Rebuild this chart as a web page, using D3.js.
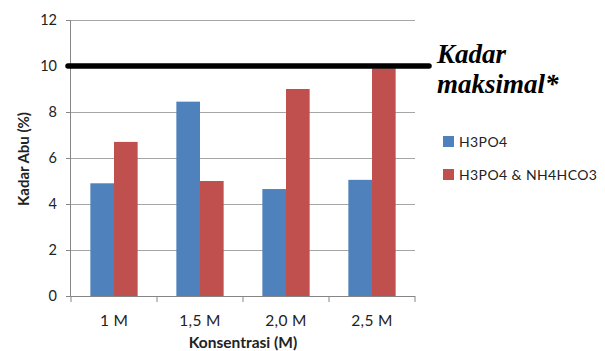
<!DOCTYPE html>
<html><head><meta charset="utf-8">
<script src="https://cdn.jsdelivr.net/npm/d3@7"></script>
<style>body{margin:0;background:#fff}svg{display:block}</style>
</head><body>
<script>
const categories = ["1 M", "1,5 M", "2,0 M", "2,5 M"];
const seriesNames = ["H3PO4", "H3PO4 & NH4HCO3"];
const h3po4 = [4.9, 8.45, 4.65, 5.05];
const h3po4Nh4hco3 = [6.7, 5.0, 9.0, 9.9];
const yTicks = [0, 2, 4, 6, 8, 10, 12];
const maxLimit = 10;
const colors = ["#4F81BD", "#C0504D"];

const W = 605, H = 351;
const svg = d3.select("body").append("svg").attr("width", W).attr("height", H);
const font = "Lato, 'Open Sans', sans-serif";

const x0 = 71, x1 = 415, yTop = 20, yBot = 296;
const x = d3.scaleBand().domain(categories).range([x0, x1]).paddingInner(0.45).paddingOuter(0.225);
const xs = d3.scaleBand().domain(seriesNames).range([0, x.bandwidth()]);
const y = d3.scaleLinear().domain([0, 12]).range([yBot, yTop]);

// gridlines
svg.append("g").selectAll("line").data(yTicks.filter(d => d > 0)).join("line")
  .attr("x1", x0).attr("x2", x1).attr("y1", d => y(d)).attr("y2", d => y(d))
  .attr("stroke", "#a6a6a6").attr("stroke-width", 1).attr("shape-rendering", "crispEdges");

// bars
const data = [h3po4, h3po4Nh4hco3];
seriesNames.forEach((s, si) => {
  svg.append("g").selectAll("rect").data(categories).join("rect")
    .attr("x", c => x(c) + xs(s)).attr("width", xs.bandwidth())
    .attr("y", (c, i) => y(data[si][i])).attr("height", (c, i) => yBot - y(data[si][i]))
    .attr("fill", colors[si]);
});

// y axis
const yAxis = d3.axisLeft(y).tickValues(yTicks).tickSize(5).tickPadding(9);
const gy = svg.append("g").attr("transform", `translate(${x0},0)`).call(yAxis);
gy.select(".domain").attr("stroke", "#868686").attr("d", `M-0.5,${yTop}V${yBot}`);
gy.selectAll(".tick line").attr("stroke", "#868686");
gy.selectAll("text").attr("font-family", font).attr("font-size", 14.5).attr("fill", "#222");

// x axis with boundary ticks
const gx = svg.append("g").attr("transform", `translate(0,${yBot})`);
gx.append("line").attr("x1", x0).attr("x2", x1).attr("y1", 0.5).attr("y2", 0.5).attr("stroke", "#868686");
const bounds = d3.range(categories.length + 1).map(i => x0 + i * (x1 - x0) / categories.length);
gx.selectAll("line.b").data(bounds).join("line").attr("class", "b")
  .attr("x1", d => d).attr("x2", d => d).attr("y1", 0).attr("y2", 6).attr("stroke", "#868686");
gx.selectAll("text").data(categories).join("text")
  .attr("x", c => x(c) + x.bandwidth() / 2).attr("y", 30).attr("text-anchor", "middle")
  .attr("font-family", font).attr("font-size", 15.5).attr("letter-spacing", 0.3).attr("fill", "#222").text(c => c);

// axis titles
svg.append("text").attr("x", 243).attr("y", 348).attr("text-anchor", "middle")
  .attr("font-family", font).attr("font-weight", "bold").attr("font-size", 15.5).attr("fill", "#222")
  .text("Konsentrasi (M)");
svg.append("text").attr("transform", "translate(29,159) rotate(-90)").attr("text-anchor", "middle")
  .attr("font-family", font).attr("font-weight", "bold").attr("font-size", 15).attr("fill", "#222")
  .text("Kadar Abu (%)");

// max line
svg.append("line").attr("x1", 68).attr("x2", 429).attr("y1", y(maxLimit)).attr("y2", y(maxLimit))
  .attr("stroke", "#000").attr("stroke-width", 5.5).attr("stroke-linecap", "round");
const tx = svg.append("text").attr("font-family", "'Liberation Serif', 'Times New Roman', serif")
  .attr("font-weight", "bold").attr("font-style", "italic").attr("font-size", 27).attr("fill", "#000");
tx.append("tspan").attr("x", 437).attr("y", 63).text("Kadar");
tx.append("tspan").attr("x", 437).attr("y", 93).text("maksimal*");

// legend
const lg = svg.append("g");
seriesNames.forEach((s, i) => {
  const ly = 136 + i * 33;
  lg.append("rect").attr("x", 443).attr("y", ly).attr("width", 11).attr("height", 11).attr("fill", colors[i]);
  lg.append("text").attr("x", 459).attr("y", ly + 11).attr("font-family", font)
    .attr("font-size", 14).attr("letter-spacing", 0.4).attr("fill", "#222").text(s);
});
</script>
</body></html>
